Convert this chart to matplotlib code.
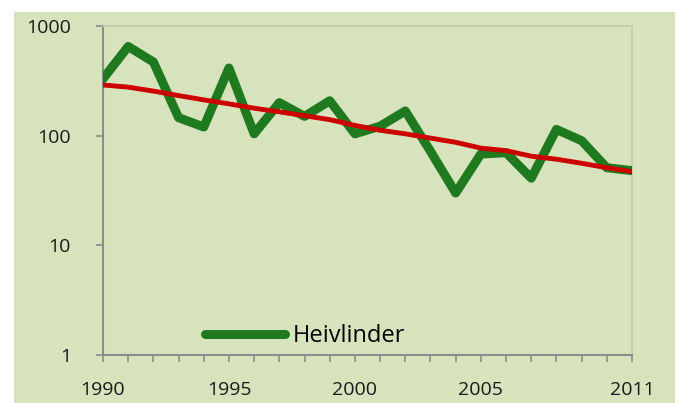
import matplotlib.pyplot as plt
from matplotlib.patches import Rectangle

# data
years = list(range(1990, 2012))
heivlinder = [330, 650, 470, 146, 120, 414, 104, 200, 150, 208, 104, 122,
              168, 72, 30, 68, 70, 41, 114, 90, 51, 48]
trend = [290, 277, 255, 232, 212, 195, 178, 165, 152, 140, 124, 112,
         104, 95, 87, 77, 73, 65, 61, 56, 51, 47]
xticks = [1990, 1995, 2000, 2005, 2011]
yticks = [1, 10, 100, 1000]

bg = '#d7e3bc'
plt.rcParams['font.family'] = ['Open Sans', 'DejaVu Sans']

fig = plt.figure(figsize=(6.78, 4.03), dpi=100, facecolor='white')
fig.patches.append(Rectangle((14 / 678, 0), (675 - 14) / 678, 1 - 12 / 403,
                             transform=fig.transFigure, facecolor=bg,
                             edgecolor='none', zorder=-10))

ax = fig.add_axes([103 / 678, 1 - 355 / 403, (632 - 103) / 678, (355 - 26) / 403])
ax.set_facecolor(bg)

line, = ax.plot(years, heivlinder, color='#1f7a1f', lw=6.5,
                solid_capstyle='round', solid_joinstyle='round', zorder=3,
                label='Heivlinder')
ax.plot(years, trend, color='#cc0000', lw=3.5, solid_capstyle='round', zorder=4)

ax.set_yscale('log')
ax.set_ylim(1, 1000)
ax.set_xlim(1990, 2011)
ax.set_yticks(yticks)
ax.set_yticklabels([str(t) for t in yticks])
ax.minorticks_off()
ax.set_xticks(years, minor=True)
ax.set_xticks(xticks)
ax.set_xticklabels([str(t) for t in xticks])

for s in ['left', 'bottom']:
    ax.spines[s].set_color('#8c8c8c')
    ax.spines[s].set_linewidth(1.5)
for s in ['top', 'right']:
    ax.spines[s].set_color('#c2ccae')
    ax.spines[s].set_linewidth(1.2)

ax.tick_params(axis='y', which='major', length=5, width=1.2, color='#8c8c8c',
               labelsize=14, pad=18, labelcolor='#1a1a1a')
ax.tick_params(axis='x', which='both', length=5, width=1.2, color='#8c8c8c',
               labelsize=14, pad=14, labelcolor='#1a1a1a')

leg = ax.legend(handles=[line], loc='center left',
                bbox_to_anchor=(0.193, 0.058), borderpad=0, borderaxespad=0,
                frameon=False, fontsize=17, handlelength=3.4, handletextpad=0.3)

fig.savefig('out.png', dpi=100, facecolor='white')
